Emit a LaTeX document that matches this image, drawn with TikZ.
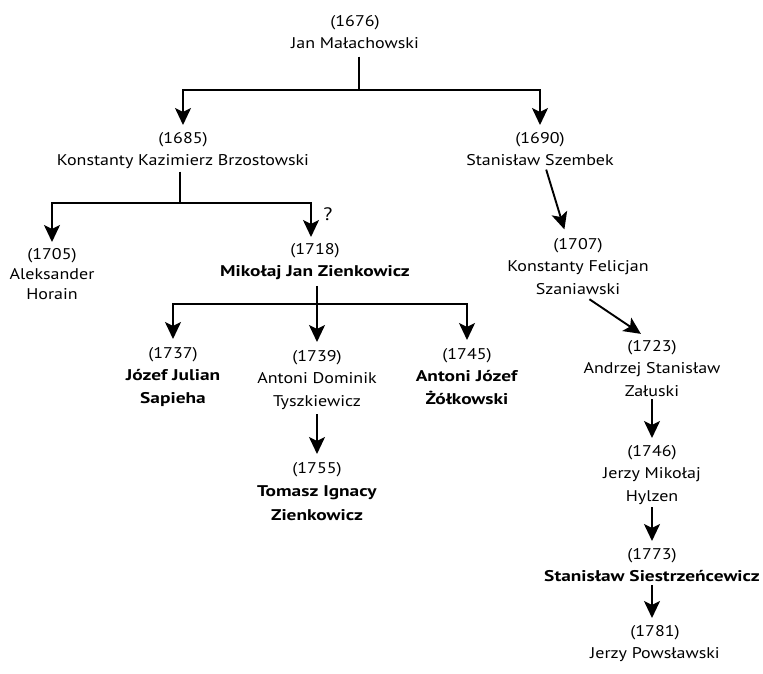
\documentclass[tikz,border=0pt]{standalone}
\usepackage{fontspec}
\setmainfont{PT Sans}[FakeStretch=1.16,BoldFeatures={FakeStretch=1.25}]
\usetikzlibrary{arrows.meta}
\begin{document}
\begin{tikzpicture}[x=1pt,y=-1pt,
  person/.style={align=center,inner sep=0pt,outer sep=0pt,anchor=north,font=\fontsize{15.5}{22.5}\selectfont},
  conn/.style={line width=1.9pt},
  arr/.style={conn,-{Stealth[length=17pt,width=16pt,inset=4pt]}},
]
\useasboundingbox (0,0) rectangle (763,673);
\fill[white] (0,0) rectangle (763,673);

\node[person] (n1676) at (355,15) {(1676)\\Jan Małachowski};
\node[person] (n1685) at (183,132) {(1685)\\Konstanty Kazimierz Brzostowski};
\node[person] (n1690) at (540,132) {(1690)\\Stanisław Szembek};
\node[person,font=\fontsize{15.5}{20}\selectfont] (n1705) at (52,248) {(1705)\\Aleksander\\Horain};
\node[person] (n1718) at (315,243) {(1718)\\\textbf{Mikołaj Jan Zienkowicz}};
\node[person] (n1737) at (173,347) {(1737)\\\textbf{Józef Julian}\\\textbf{Sapieha}};
\node[person] (n1739) at (317,350) {(1739)\\Antoni Dominik\\Tyszkiewicz};
\node[person] (n1745) at (467,348) {(1745)\\\textbf{Antoni Józef}\\\textbf{Żółkowski}};
\node[person,font=\fontsize{15.5}{23.5}\selectfont] (n1755) at (317,462) {(1755)\\\textbf{Tomasz Ignacy}\\\textbf{Zienkowicz}};
\node[person] (n1707) at (578,238) {(1707)\\Konstanty Felicjan\\Szaniawski};
\node[person] (n1723) at (652,340) {(1723)\\Andrzej Stanisław\\Załuski};
\node[person] (n1746) at (652,445) {(1746)\\Jerzy Mikołaj\\Hylzen};
\node[person] (n1773) at (652,548) {(1773)\\\textbf{Stanisław Siestrzeńcewicz}};
\node[person] (n1781) at (655,625) {(1781)\\Jerzy Powsławski};
\node[font=\fontsize{18}{20}\selectfont,inner sep=0pt] (q) at (328,214) {?};

% Małachowski
\coordinate (j1) at (359,90);
\draw[conn,shorten <=8pt] (j1 |- n1676.south) -- (j1);
\draw[arr,shorten >=7pt] (j1) -| (n1685.north);
\draw[arr,shorten >=7pt] (j1) -| (n1690.north);

% Brzostowski
\coordinate (j2) at (180,203);
\draw[conn,shorten <=3pt] (j2 |- n1685.south) -- (j2);
\draw[arr,shorten >=6pt] (j2) -| (n1705.north);
\draw[arr,shorten >=6pt] (j2) -| ([xshift=-4pt]n1718.north);

% Zienkowicz
\coordinate (j3) at (317,304);
\draw[conn,shorten <=6pt] (j3 |- n1718.south) -- (j3);
\draw[arr,shorten >=8pt] (j3) -| (n1737.north);
\draw[arr,shorten >=8pt] (j3) -| (n1739.north);
\draw[arr,shorten >=8pt] (j3) -| (n1745.north);
\draw[arr,shorten <=5pt,shorten >=8pt] (n1739.south) -- (n1739.south |- n1755.north);

% Szembek line
\draw[arr,shorten <=4pt,shorten >=9pt] ([xshift=5pt]n1690.south) -- ([xshift=-11pt]n1707.north);
\draw[arr,shorten <=9pt,shorten >=11pt] ([xshift=4pt]n1707.south) -- ([xshift=-2pt]n1723.north);
\draw[arr,shorten <=3pt,shorten >=7pt] (n1723.south) -- (n1723.south |- n1746.north);
\draw[arr,shorten <=3pt,shorten >=7pt] (n1746.south) -- (n1746.south |- n1773.north);
\draw[arr,shorten <=3pt,shorten >=7pt] (n1773.south) -- (n1773.south |- n1781.north);
\end{tikzpicture}
\end{document}
